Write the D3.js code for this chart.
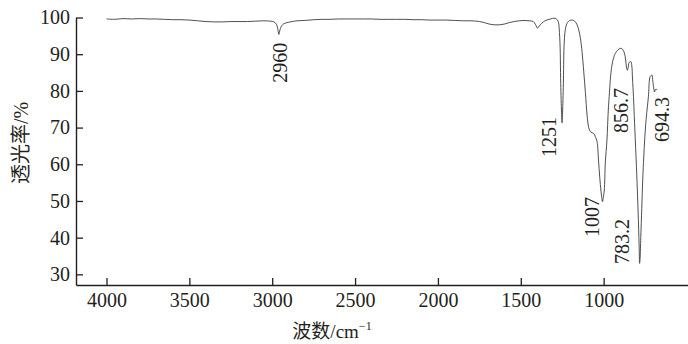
<!DOCTYPE html>
<html>
<head>
<meta charset="utf-8">
<script src="https://cdn.jsdelivr.net/npm/d3@7"></script>
<style>
  html, body { margin: 0; padding: 0; background: #fff; }
  svg { display: block; }
  svg text { fill: #231f20; font-family: "Liberation Serif", "Times New Roman", Times, serif; }
  svg text.cjk { font-family: "Liberation Serif", "Noto Sans CJK SC", serif; }
</style>
</head>
<body>
<svg id="chart" width="688" height="344"></svg>
<script>
// ---- data ----
const wavenumber = [4000,3950,3900,3850,3800,3750,3700,3650,3600,3550,3500,3450,3400,3350,3300,3250,3200,3150,3100,3050,3010,2990,2975,2965,2960,2955,2945,2930,2910,2880,2850,2800,2750,2700,2650,2600,2550,2500,2450,2400,2350,2300,2250,2200,2150,2100,2050,2000,1950,1900,1850,1800,1750,1720,1690,1660,1630,1600,1570,1540,1510,1480,1450,1425,1410,1400,1390,1375,1350,1320,1300,1285,1275,1265,1259,1254,1251,1248,1243,1239,1232,1222,1205,1190,1175,1160,1150,1140,1130,1120,1110,1100,1090,1080,1070,1060,1050,1040,1030,1020,1012,1007,1002,996,990,980,972,965,960,950,940,930,915,900,890,882,875,870,865,861,857,852,848,843,836,830,826,820,815,809,800,792,786,783,780,776,770,764,758,752,746,740,730,719,709,703,697,693,688,683,678];
const transmittance = [99.6,99.5,99.7,99.6,99.7,99.6,99.6,99.5,99.4,99.4,99.3,99.1,98.9,98.8,98.8,98.9,98.9,98.9,99.0,99.1,99.0,98.8,98.2,96.5,95.4,96.3,97.6,98.3,98.6,98.9,99.1,99.2,99.4,99.5,99.5,99.6,99.6,99.6,99.6,99.6,99.5,99.5,99.5,99.5,99.4,99.4,99.3,99.3,99.3,99.2,99.1,99.1,98.9,98.6,98.2,98.0,98.0,98.2,98.6,98.9,99.1,99.2,99.1,98.9,98.0,97.1,97.6,98.4,99.2,99.6,99.8,99.6,99.0,94.5,82.0,74.0,71.3,74.0,82.0,92.0,96.5,98.3,99.2,99.3,99.0,98.0,96.6,94.3,90.5,85.2,79.5,73.4,70.0,68.9,68.6,68.4,67.5,66.2,60.4,54.5,51.2,49.8,51.0,53.0,60.4,66.6,74.8,79.5,83.0,87.0,89.0,90.2,91.1,91.6,91.5,91.1,90.3,89.3,87.5,86.2,85.6,86.4,87.5,87.9,88.0,86.8,83.5,78.4,73.0,66.6,57.0,47.0,38.0,33.0,34.5,40.0,48.0,56.0,62.0,67.0,71.0,74.0,78.4,83.9,84.3,82.5,80.5,79.7,80.3,80.5,80.2];

const xTicks = [4000,3500,3000,2500,2000,1500,1000];
const yTicks = [30,40,50,60,70,80,90,100];

// peak annotations: label text, anchor (wavenumber, transmittance) of the label's start
const peakLabels = ["2960","1251","1007","856.7","783.2","694.3"];
const peakLabelW = [2955,1332,1068,894,888,650];
const peakLabelT = [82.2,62.0,40.2,68.5,32.8,66.1];

// ---- drawing ----
const svg = d3.select("#chart");

const x = d3.scaleLinear().domain([4184, 491]).range([76, 688]);
const y = d3.scaleLinear().domain([27.1, 100]).range([285, 17.5]);

// X axis
const xAxis = svg.append("g")
  .attr("transform", "translate(0,285)")
  .call(d3.axisBottom(x).tickValues(xTicks).tickFormat(d3.format("d"))
        .tickSizeInner(-7).tickSizeOuter(0).tickPadding(8));
// Y axis
const yAxis = svg.append("g")
  .attr("transform", "translate(76,0)")
  .call(d3.axisLeft(y).tickValues(yTicks).tickFormat(d3.format("d"))
        .tickSizeInner(-7).tickSizeOuter(0).tickPadding(6));

[xAxis, yAxis].forEach(g => {
  g.attr("font-family", null).attr("font-size", null);
  g.select(".domain").attr("stroke", "#231f20").attr("stroke-width", 1.4);
  g.selectAll(".tick line").attr("stroke", "#231f20").attr("stroke-width", 1.3);
  g.selectAll(".tick text").style("font-size", "20px").attr("fill", "#231f20");
});

// spectrum line
const pts = wavenumber.map((w, i) => [w, transmittance[i]]);
svg.append("path")
  .datum(pts)
  .attr("fill", "none")
  .attr("stroke", "#3b3b3b")
  .attr("stroke-width", 0.9)
  .attr("stroke-linejoin", "round")
  .attr("d", d3.line().x(d => x(d[0])).y(d => y(d[1])).curve(d3.curveCatmullRom.alpha(0.5)));

// peak labels (rotated)
peakLabels.forEach((t, i) => {
  svg.append("text")
    .attr("transform", `translate(${x(peakLabelW[i])},${y(peakLabelT[i])}) rotate(-90)`)
    .attr("dy", "0.35em")
    .attr("text-anchor", "start")
    .style("font-size", "20px")
    .text(t);
});

// axis titles
const xt = svg.append("text")
  .attr("class", "cjk")
  .attr("x", 332).attr("y", 338)
  .attr("text-anchor", "middle")
  .style("font-size", "19px");
xt.append("tspan").text("波数/cm");
xt.append("tspan").style("font-size", "12px").attr("dy", -8).text("−1");

svg.append("text")
  .attr("class", "cjk")
  .attr("transform", "translate(21,143) rotate(-90)")
  .attr("text-anchor", "middle")
  .attr("dy", "0.35em")
  .style("font-size", "20px")
  .text("透光率/%");
</script>
</body>
</html>
